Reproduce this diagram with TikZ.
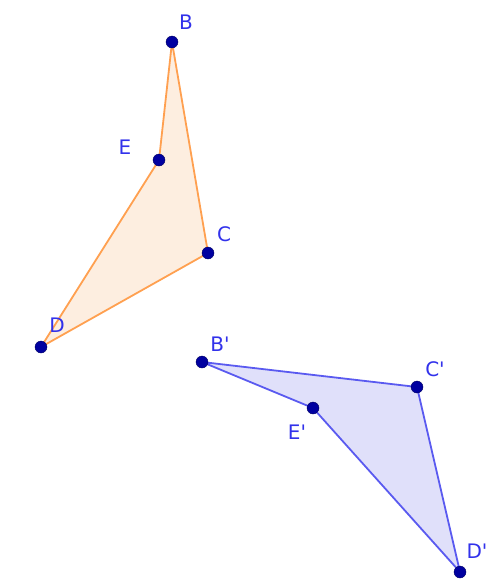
\documentclass[tikz,border=0pt]{standalone}
\usepackage{fontspec}
\setmainfont{DejaVu Sans}
\usepackage{tikz}
\definecolor{ptblue}{RGB}{0,0,160}
\definecolor{lblblue}{RGB}{50,50,235}
\definecolor{orangeline}{RGB}{255,160,80}
\definecolor{orangefill}{RGB}{253,238,224}
\definecolor{blueline}{RGB}{90,90,240}
\definecolor{bluefill}{RGB}{224,224,250}
\newcommand{\pr}{\textquotesingle}

\begin{document}
\begin{tikzpicture}[x=1pt, y=-1pt,
  pt/.style={circle, fill=ptblue, draw=ptblue!60!black, inner sep=0pt, minimum size=12pt},
  lbl/.style={text=lblblue, font=\fontsize{20}{20}\selectfont, inner sep=0pt}]
\useasboundingbox (0,0) rectangle (490,579);
% original quadrilateral
\coordinate (B) at (172,42);
\coordinate (E) at (159,160);
\coordinate (C) at (208,253);
\coordinate (D) at (41,347);
\filldraw[fill=orangefill, draw=orangeline, line width=1.8pt, line join=round] (B) -- (E) -- (D) -- (C) -- cycle;
% image
\coordinate (B') at (202,362);
\coordinate (C') at (417,387);
\coordinate (E') at (313,408);
\coordinate (D') at (460,572);
\filldraw[fill=bluefill, draw=blueline, line width=1.8pt, line join=round] (B') -- (E') -- (D') -- (C') -- cycle;
% points
\foreach \p in {B,E,C,D,B',C',E',D'}
  \node[pt] at (\p) {};
\node[lbl] (lB) at (186,22) {B};
\node[lbl] (lE) at (125,147) {E};
\node[lbl] (lC) at (224,234) {C};
\node[lbl] (lD) at (57,325) {D};
\node[lbl] (lB') at (220,344) {B\pr};
\node[lbl] (lC') at (435,369) {C\pr};
\node[lbl] (lE') at (297,432) {E\pr};
\node[lbl] (lD') at (477,551) {D\pr};
\end{tikzpicture}
\end{document}
